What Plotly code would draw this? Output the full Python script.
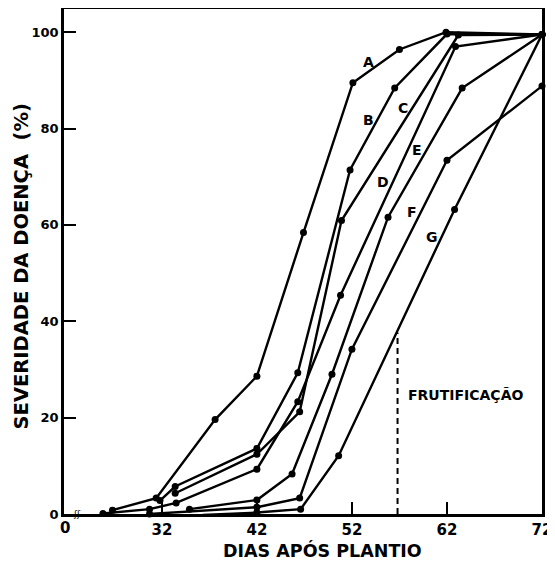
import plotly.graph_objects as go

# Days after planting and disease severity (%) for each curve
curve_names = ["A", "B", "C", "D", "E", "F", "G"]
days = {
    "A": [26.8, 31.4, 37.6, 42.0, 46.9, 52.1, 57.0, 61.9, 72.0],
    "B": [31.8, 33.4, 42.0, 46.3, 51.8, 56.5, 62.0, 72.0],
    "C": [33.4, 42.0, 46.5, 50.9, 63.2, 72.0],
    "D": [25.8, 30.7, 33.5, 42.0, 46.3, 50.8, 62.9, 72.0],
    "E": [34.9, 42.0, 45.7, 49.9, 55.8, 63.6, 72.0],
    "F": [30.7, 42.0, 46.5, 52.0, 62.0, 72.0],
    "G": [36.3, 42.0, 46.6, 50.6, 62.8, 72.0],
}
severity = {
    "A": [0.8, 3.3, 19.6, 28.6, 58.4, 89.5, 96.4, 100.0, 99.5],
    "B": [2.8, 5.7, 13.6, 29.3, 71.4, 88.4, 99.6, 99.5],
    "C": [4.3, 12.4, 21.2, 60.9, 99.4, 99.5],
    "D": [0.1, 1.0, 2.3, 9.3, 23.3, 45.4, 97.0, 99.5],
    "E": [1.0, 2.9, 8.3, 29.0, 61.6, 88.4, 99.5],
    "F": [0.0, 1.4, 3.3, 34.2, 73.4, 88.8],
    "G": [-0.2, 0.3, 1.0, 12.1, 63.2, 99.5],
}
label_x = [53.7, 53.7, 57.4, 55.3, 58.8, 58.3, 60.4]
label_y = [93.8, 81.7, 84.2, 68.9, 75.5, 62.6, 57.5]

fruit_day = [56.8, 56.8]
fruit_sev = [0.0, 37.6]

x_ticks = [32, 42, 52, 62, 72]
y_ticks = [0, 20, 40, 60, 80, 100]

FONT = "DejaVu Sans"

fig = go.Figure()
for name in curve_names:
    fig.add_trace(go.Scatter(
        x=days[name], y=severity[name], mode="lines+markers",
        line=dict(color="black", width=2.4),
        marker=dict(color="black", size=7),
        cliponaxis=False, showlegend=False, name=name))

fig.add_trace(go.Scatter(
    x=fruit_day, y=fruit_sev, mode="lines",
    line=dict(color="black", width=2, dash="6px,4px"),
    showlegend=False))

for n, lx, ly in zip(curve_names, label_x, label_y):
    fig.add_annotation(x=lx, y=ly, text="<b>%s</b>" % n, showarrow=False,
                       font=dict(family=FONT, size=14, color="black"))

fig.add_annotation(x=63.9, y=24.7, text="<b>FRUTIFICAÇÃO</b>", showarrow=False,
                   font=dict(family=FONT, size=14, color="black"))

# origin "0" and axis break mark
fig.add_annotation(xref="paper", yref="paper", x=0.003, y=-0.006, xanchor="center",
                   yanchor="top", text="<b>0</b>", showarrow=False,
                   font=dict(family=FONT, size=15, color="black"))
fig.add_annotation(xref="paper", yref="paper", x=0.028, y=0.0, xanchor="center",
                   yanchor="middle", text="ʃʃ", showarrow=False,
                   font=dict(family="DejaVu Sans", size=9, color="black"))

# axis titles placed as annotations (slightly off-centre, as in the original)
fig.add_annotation(xref="paper", yref="paper", x=0.54, y=-0.047, xanchor="center",
                   yanchor="top", text="<b>DIAS APÓS PLANTIO</b>", showarrow=False,
                   font=dict(family=FONT, size=17.5, color="black"))
fig.add_annotation(xref="paper", yref="paper", x=-0.088, y=0.49, xanchor="center",
                   yanchor="middle", textangle=-90, text="<b>SEVERIDADE DA DOENÇA  (%)</b>",
                   showarrow=False, font=dict(family=FONT, size=19.5, color="black"))

# page body adds ~8px offset, so the figure is sized to fit inside the window
fig.update_layout(
    width=547, height=555,
    margin=dict(l=56, r=13, t=1, b=49),
    paper_bgcolor="white", plot_bgcolor="white",
    font=dict(family=FONT, color="black"),
)
fig.update_xaxes(
    range=[21.7, 72], tickvals=x_ticks, ticktext=["<b>%d</b>" % v for v in x_ticks],
    ticks="inside", ticklen=12, tickwidth=2, tickcolor="black",
    showline=True, linewidth=2.5, linecolor="black", mirror=True,
    showgrid=False, zeroline=False, automargin=False,
    tickfont=dict(family=FONT, size=15, color="black"),
)
fig.update_yaxes(
    range=[0, 104.8], tickvals=y_ticks, ticktext=["<b>%d</b>" % v for v in y_ticks],
    ticks="inside", ticklen=12, tickwidth=2, tickcolor="black",
    showline=True, linewidth=2.5, linecolor="black", mirror=True,
    showgrid=False, zeroline=False, automargin=False,
    tickfont=dict(family=FONT, size=13, color="black"),
)

fig.write_html("out.html")
